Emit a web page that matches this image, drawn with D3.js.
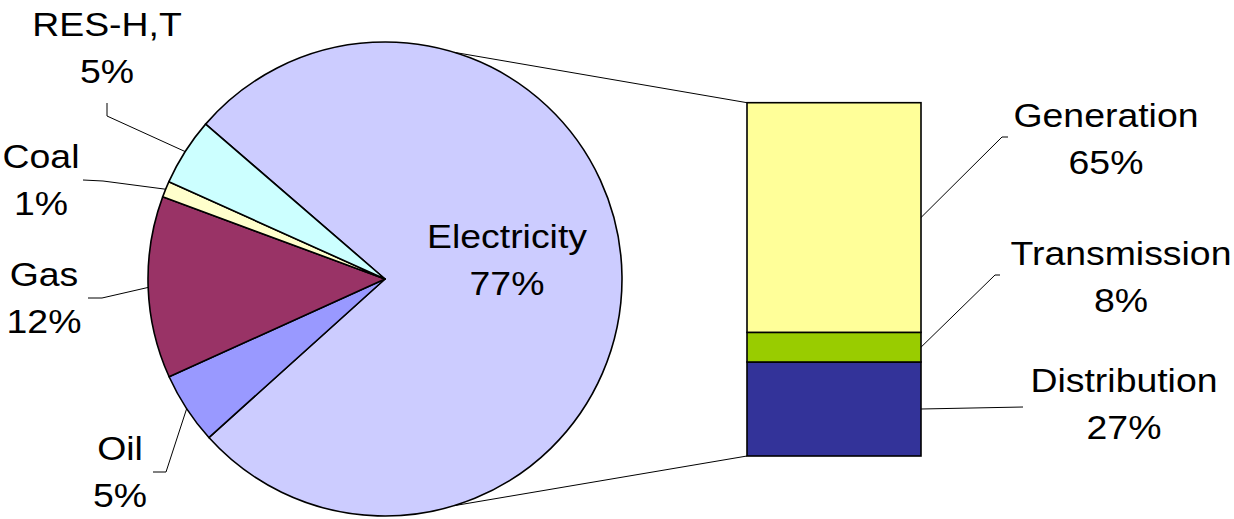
<!DOCTYPE html>
<html>
<head>
<meta charset="utf-8">
<script src="https://cdn.jsdelivr.net/npm/d3@7"></script>
<style>
  html, body { margin: 0; padding: 0; background: #fff; }
  svg { display: block; }
  text { font-family: "Liberation Sans", Arial, sans-serif; fill: #000; }
</style>
</head>
<body>
<svg id="chart" width="1234" height="519"></svg>
<script>
// pie data (clockwise from upper left)
const pieCategories = ["Electricity", "Oil", "Gas", "Coal", "RES-H,T"];
const pieValues = [77.0, 4.9, 12.4, 1.1, 4.6];
// bar data (bottom to top), breakdown of Electricity
const barCategories = ["Distribution", "Transmission", "Generation"];
const barValues = [26.6, 8.4, 65.0];

const pieColors = ["#ccccff", "#9999ff", "#993366", "#ffffcc", "#ccffff"];
const barColors = ["#333399", "#99cc00", "#ffff99"];

const svg = d3.select("#chart");
const cx = 385, cy = 279, r = 237;
const startAngle = -49.2 * Math.PI / 180;
const fontSize = 34, stretch = 1.1, lineGap = 47.5;

// label layout: first-line baseline centre, leader start and elbow
const pieLabelLayout = [
  { x: 507, y: 248, inside: true },
  { x: 120, y: 460, start: [153, 472], elbow: [166, 472] },
  { x: 44, y: 286, start: [88, 298], elbow: [102, 298] },
  { x: 41, y: 168, start: [83, 180], elbow: [103, 181] },
  { x: 107, y: 36, start: [107, 103], elbow: [107, 116] }
];
const barLabelLayout = [
  { x: 1124, y: 392, start: [1023, 407], elbow: [1023, 407] },
  { x: 1121, y: 265, start: [1000, 275], elbow: [995, 275] },
  { x: 1106, y: 127, start: [1008, 137], elbow: [1002, 137] }
];

const pie = d3.pie().sort(null)
  .startAngle(startAngle).endAngle(startAngle + 2 * Math.PI);
const arcs = pie(pieValues);
const arc = d3.arc().innerRadius(0).outerRadius(r);

const gPie = svg.append("g").attr("transform", `translate(${cx},${cy})`);
gPie.selectAll("path")
  .data(arcs)
  .enter().append("path")
  .attr("d", arc)
  .attr("fill", (d, i) => pieColors[i])
  .attr("stroke", "#000")
  .attr("stroke-width", 1.6)
  .attr("stroke-linejoin", "round");

// bar scale
const barX0 = 747, barX1 = 921;
const y = d3.scaleLinear().domain([0, d3.sum(barValues)]).range([456, 102.7]);
const stacked = [];
let acc = 0;
barValues.forEach((v, i) => {
  stacked.push({ cat: barCategories[i], v, y0: acc, y1: acc + v });
  acc += v;
});

// series lines from pie to bar
const connAngle = 17 * Math.PI / 180;
const pt = a => [cx + r * Math.sin(a), cy - r * Math.cos(a)];
const topP = pt(connAngle), botP = pt(Math.PI - connAngle);
svg.append("line")
  .attr("x1", topP[0]).attr("y1", topP[1])
  .attr("x2", barX0).attr("y2", y(acc))
  .attr("stroke", "#000").attr("stroke-width", 1);
svg.append("line")
  .attr("x1", botP[0]).attr("y1", botP[1])
  .attr("x2", barX0).attr("y2", y(0))
  .attr("stroke", "#000").attr("stroke-width", 1);

svg.selectAll("rect.seg")
  .data(stacked)
  .enter().append("rect")
  .attr("class", "seg")
  .attr("x", barX0)
  .attr("width", barX1 - barX0)
  .attr("y", d => y(d.y1))
  .attr("height", d => y(d.y0) - y(d.y1))
  .attr("fill", (d, i) => barColors[i])
  .attr("stroke", "#000")
  .attr("stroke-width", 1.6);

function leader(layout, end) {
  svg.append("polyline")
    .attr("points", [layout.start, layout.elbow, end].map(p => p.join(",")).join(" "))
    .attr("fill", "none")
    .attr("stroke", "#000")
    .attr("stroke-width", 1);
}

// labels are drawn a little wider than the font, as in the original
function label(x, yy, lines) {
  const t = svg.append("text")
    .attr("transform", `translate(${x},0) scale(${stretch},1)`)
    .attr("text-anchor", "middle")
    .style("font-size", fontSize + "px");
  lines.forEach((s, i) => {
    t.append("tspan").attr("x", 0).attr("y", yy + i * lineGap).text(s);
  });
}

arcs.forEach((d, i) => {
  const L = pieLabelLayout[i];
  if (!L.inside) {
    const mid = (d.startAngle + d.endAngle) / 2;
    leader(L, pt(mid));
  }
  label(L.x, L.y, [pieCategories[i], Math.round(d.value) + "%"]);
});

stacked.forEach((d, i) => {
  const L = barLabelLayout[i];
  leader(L, [barX1, (y(d.y0) + y(d.y1)) / 2]);
  label(L.x, L.y, [d.cat, Math.round(d.v) + "%"]);
});
</script>
</body>
</html>
